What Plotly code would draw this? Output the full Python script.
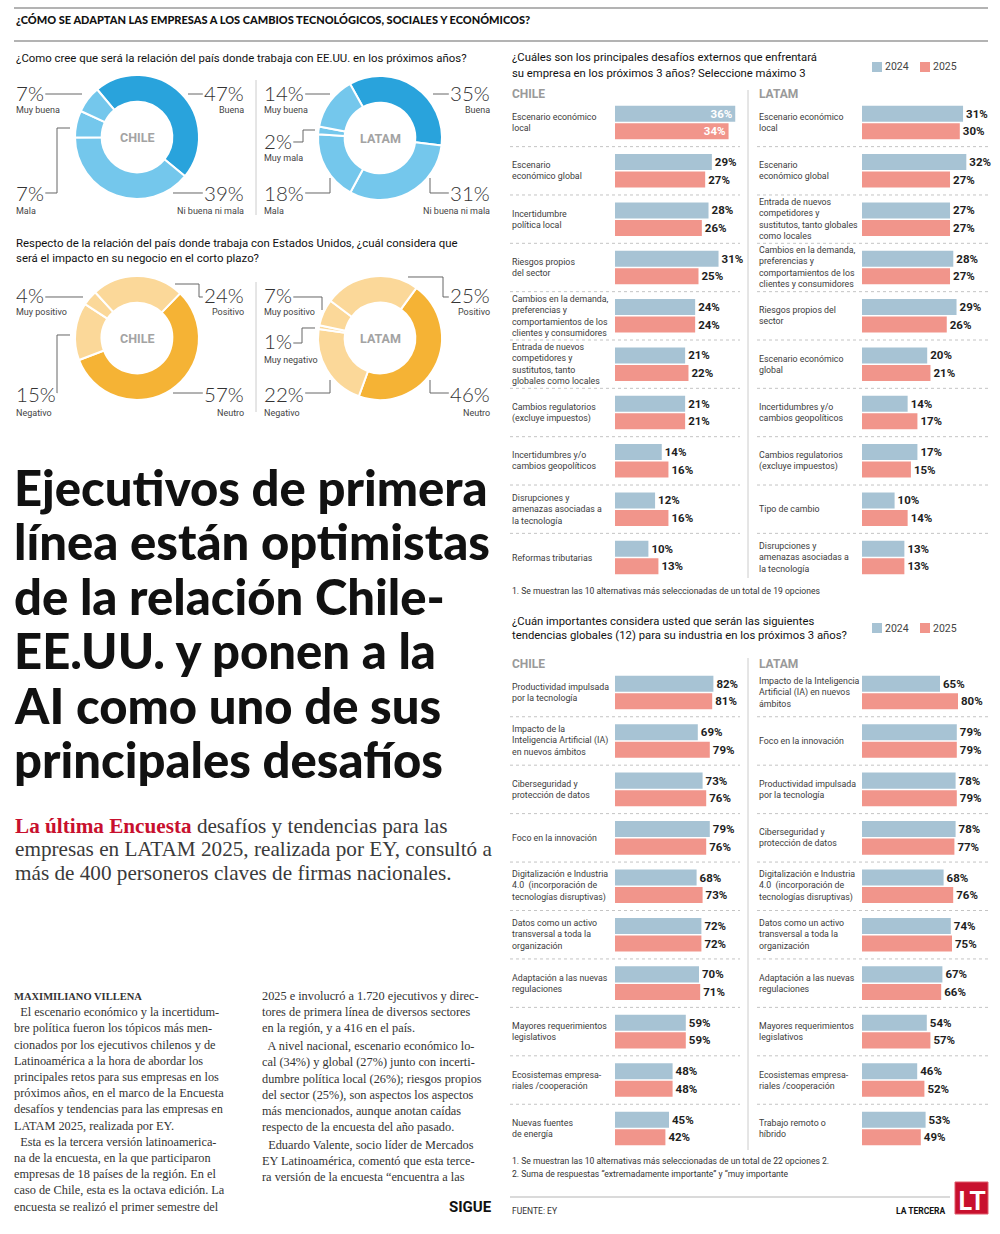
import plotly.graph_objects as go

W, H = 1000, 1234
def px(x): return x / W
def py(y): return 1 - y / H

SANS = "Roboto, 'Liberation Sans', Arial, sans-serif"
LATO = "Lato, Roboto, sans-serif"
SERIF = "'Liberation Serif', 'DejaVu Serif', serif"
TXT = "#3a3a3a"

# ---------------- DATA ----------------
rel_labels_chile = ["Buena", "Ni buena ni mala", "Mala", "Muy buena"]
rel_values_chile = [47, 39, 7, 7]
rel_labels_latam = ["Buena", "Ni buena ni mala", "Mala", "Muy mala", "Muy buena"]
rel_values_latam = [35, 31, 18, 2, 14]
imp_labels_chile = ["Neutro", "Negativo", "Muy positivo", "Positivo"]
imp_values_chile = [57, 15, 4, 24]
imp_labels_latam = ["Neutro", "Negativo", "Muy negativo", "Muy positivo", "Positivo"]
imp_values_latam = [46, 22, 1, 7, 25]

series_names = ["2024", "2025"]

c1_chile_labels = ["Escenario económico<br>local", "Escenario<br>económico global",
                   "Incertidumbre<br>política local", "Riesgos propios<br>del sector",
                   "Cambios en la demanda,<br>preferencias y<br>comportamientos de los<br>clientes y consumidores",
                   "Entrada de nuevos<br>competidores y<br>sustitutos, tanto<br>globales como locales",
                   "Cambios regulatorios<br>(excluye impuestos)",
                   "Incertidumbres y/o<br>cambios geopolíticos",
                   "Disrupciones y<br>amenazas asociadas a<br>la tecnología",
                   "Reformas tributarias"]
c1_chile_2024 = [36, 29, 28, 31, 24, 21, 21, 14, 12, 10]
c1_chile_2025 = [34, 27, 26, 25, 24, 22, 21, 16, 16, 13]

c1_latam_labels = ["Escenario económico<br>local", "Escenario<br>económico global",
                   "Entrada de nuevos<br>competidores y<br>sustitutos, tanto globales<br>como locales",
                   "Cambios en la demanda,<br>preferencias y<br>comportamientos de los<br>clientes y consumidores",
                   "Riesgos propios del<br>sector", "Escenario económico<br>global",
                   "Incertidumbres y/o<br>cambios geopolíticos",
                   "Cambios regulatorios<br>(excluye impuestos)", "Tipo de cambio",
                   "Disrupciones y<br>amenazas asociadas a<br>la tecnología"]
c1_latam_2024 = [31, 32, 27, 28, 29, 20, 14, 17, 10, 13]
c1_latam_2025 = [30, 27, 27, 27, 26, 21, 17, 15, 14, 13]

c2_chile_labels = ["Productividad impulsada<br>por la tecnología",
                   "Impacto de la<br>Inteligencia Artificial (IA)<br>en nuevos ámbitos",
                   "Ciberseguridad y<br>protección de datos", "Foco en la innovación",
                   "Digitalización e Industria<br>4.0  (incorporación de<br>tecnologías disruptivas)",
                   "Datos como un activo<br>transversal a toda la<br>organización",
                   "Adaptación a las nuevas<br>regulaciones", "Mayores requerimientos<br>legislativos",
                   "Ecosistemas empresa-<br>riales /cooperación", "Nuevas fuentes<br>de energía"]
c2_chile_2024 = [82, 69, 73, 79, 68, 72, 70, 59, 48, 45]
c2_chile_2025 = [81, 79, 76, 76, 73, 72, 71, 59, 48, 42]

c2_latam_labels = ["Impacto de la Inteligencia<br>Artificial (IA) en nuevos<br>ámbitos",
                   "Foco en la innovación", "Productividad impulsada<br>por la tecnología",
                   "Ciberseguridad y<br>protección de datos",
                   "Digitalización e Industria<br>4.0  (incorporación de<br>tecnologías disruptivas)",
                   "Datos como un activo<br>transversal a toda la<br>organización",
                   "Adaptación a las nuevas<br>regulaciones", "Mayores requerimientos<br>legislativos",
                   "Ecosistemas empresa-<br>riales /cooperación", "Trabajo remoto o<br>híbrido"]
c2_latam_2024 = [65, 79, 78, 78, 68, 74, 67, 54, 46, 53]
c2_latam_2025 = [80, 79, 79, 77, 76, 75, 66, 57, 52, 49]

# ---------------- STYLE ----------------
BLUE_DARK, BLUE_LIGHT = "#29a3dc", "#74c7ec"
ORANGE_DARK, ORANGE_LIGHT = "#f5b335", "#fbd899"
BAR_BLUE, BAR_RED = "#a7c3d4", "#f1958b"

fig = go.Figure()
ann = []
shapes = []

def text(x, y, s, size=11, color=TXT, family=SANS, xanchor="left", yanchor="middle", bold=False, weight=None):
    f = dict(size=size, color=color, family=family)
    if weight is not None:
        f["weight"] = weight
    ann.append(dict(x=px(x), y=py(y), xref="paper", yref="paper", text=(f"<b>{s}</b>" if bold else s),
                    showarrow=False, xanchor=xanchor, yanchor=yanchor,
                    align=xanchor if xanchor != "center" else "center", font=f))

def hline(x0, x1, y, color="#aaaaaa", width=1, dash="solid"):
    shapes.append(dict(type="line", xref="paper", yref="paper", x0=px(x0), x1=px(x1), y0=py(y), y1=py(y),
                       line=dict(color=color, width=width, dash=dash)))

def vline(x, y0, y1, color="#cccccc", width=1):
    shapes.append(dict(type="line", xref="paper", yref="paper", x0=px(x), x1=px(x), y0=py(y0), y1=py(y1),
                       line=dict(color=color, width=width)))

def poly(points, color="#555555", width=1):
    d = "M " + " L ".join(f"{px(a):.5f},{py(b):.5f}" for a, b in points)
    shapes.append(dict(type="path", xref="paper", yref="paper", path=d, line=dict(color=color, width=width)))

# ---------------- HEADER ----------------
hline(14, 988, 8, "#9a9a9a", 1.5)
text(14, 20, "¿CÓMO SE ADAPTAN LAS EMPRESAS A LOS CAMBIOS TECNOLÓGICOS, SOCIALES Y ECONÓMICOS?",
     size=11, color="#111", family=LATO, weight=900)
hline(14, 988, 41, "#9a9a9a", 1.5)

# ---------------- DONUTS ----------------
text(14, 58, "¿Como cree que será la relación del país donde trabaja con EE.UU. en los próximos años?",
     size=11.4, color="#111", family=SANS)
text(14, 243, "Respecto de la relación del país donde trabaja con Estados Unidos, ¿cuál considera que",
     size=11.4, color="#111", family=SANS)
text(14, 258, "será el impacto en su negocio en el corto plazo?", size=11.4, color="#111", family=SANS)
vline(256, 80, 215)
vline(256, 282, 412)

def donut(labels, values, dark_label, dark, light, cx, cy, r, rotation, name):
    colors = [dark if l == dark_label else light for l in labels]
    fig.add_trace(go.Pie(labels=labels, values=values, sort=False, direction="clockwise",
                         rotation=rotation, hole=0.57, textinfo="none", hoverinfo="skip",
                         marker=dict(colors=colors, line=dict(color="white", width=2)),
                         domain=dict(x=[px(cx - r), px(cx + r)], y=[py(cy + r), py(cy - r)]),
                         showlegend=False))
    text(cx, cy, name, size=12.5, color="#a3a3a3", family=SANS, xanchor="center", bold=True)

donut(rel_labels_chile, rel_values_chile, "Buena", BLUE_DARK, BLUE_LIGHT, 137, 137, 62, -40, "CHILE")
donut(rel_labels_latam, rel_values_latam, "Buena", BLUE_DARK, BLUE_LIGHT, 380, 138, 62, -29, "LATAM")
donut(imp_labels_chile, imp_values_chile, "Neutro", ORANGE_DARK, ORANGE_LIGHT, 137, 338, 62, 44, "CHILE")
donut(imp_labels_latam, imp_values_latam, "Neutro", ORANGE_DARK, ORANGE_LIGHT, 380, 338, 62, 36, "LATAM")

# label placement (pct anchor x, pct y, sub y, xanchor, leader polyline)
place_rel_chile = {
    "Muy buena": (14, 94, 110, "left", [(43, 94), (82, 94)]),
    "Buena": (246, 94, 110, "right", [(188, 94), (212, 94)]),
    "Mala": (14, 194, 211, "left", [(44, 193), (57, 193), (57, 128), (70, 128)]),
    "Ni buena ni mala": (246, 194, 211, "right", [(173, 193), (207, 193)]),
}
place_rel_latam = {
    "Muy buena": (262, 94, 110, "left", [(296, 94), (330, 94)]),
    "Buena": (492, 94, 110, "right", [(433, 94), (456, 94)]),
    "Muy mala": (262, 142, 158, "left", [(287, 142), (303, 142), (303, 130), (315, 130)]),
    "Mala": (262, 194, 211, "left", [(296, 193), (330, 193), (330, 178)]),
    "Ni buena ni mala": (492, 194, 211, "right", [(430, 178), (430, 193), (456, 193)]),
}
place_imp_chile = {
    "Muy positivo": (14, 296, 312, "left", [(40, 297), (83, 297)]),
    "Positivo": (246, 296, 312, "right", [(175, 284), (199, 284), (199, 297), (211, 297)]),
    "Negativo": (14, 395, 413, "left", [(45, 393), (57, 393), (57, 335), (70, 335)]),
    "Neutro": (246, 395, 413, "right", [(173, 393), (208, 393)]),
}
place_imp_latam = {
    "Muy positivo": (262, 296, 312, "left", [(287, 297), (322, 297), (322, 310)]),
    "Positivo": (492, 296, 312, "right", [(408, 277), (443, 277), (443, 297), (456, 297)]),
    "Muy negativo": (262, 342, 360, "left", [(283, 343), (302, 343), (302, 328), (315, 328)]),
    "Negativo": (262, 395, 413, "left", [(296, 393), (330, 393), (330, 380)]),
    "Neutro": (492, 395, 413, "right", [(430, 380), (430, 393), (456, 393)]),
}

PCT_SIZE = 20.5
def pct_width(v):
    return len(str(v)) * 0.58 * PCT_SIZE + 0.8 * PCT_SIZE

for labels, values, place in [(rel_labels_chile, rel_values_chile, place_rel_chile),
                              (rel_labels_latam, rel_values_latam, place_rel_latam),
                              (imp_labels_chile, imp_values_chile, place_imp_chile),
                              (imp_labels_latam, imp_values_latam, place_imp_latam)]:
    for l, v in zip(labels, values):
        x, ypct, ysub, xa, pts = place[l]
        text(x, ypct - 1, f"{v}%", size=PCT_SIZE, color="#333", family=LATO, xanchor=xa, weight=300)
        text(x, ysub, l, size=9, color="#444", family=SANS, xanchor=xa)
        pts = list(pts)
        w = pct_width(v)
        if xa == "left":
            a, b = pts[0]
            pts[0] = (max(a, x + w + 3), b)
        else:
            a, b = pts[-1]
            pts[-1] = (min(a, x - w - 3), b)
        poly(pts, "#666666", 1)

# ---------------- HEADLINE ----------------
headline = ["Ejecutivos de primera", "línea están optimistas", "de la relación Chile-",
            "EE.UU. y ponen a la", "AI como uno de sus", "principales desafíos"]
for i, line in enumerate(headline):
    text(12, 487 + 54.4 * i, line, size=49, color="#111", family=LATO, weight=900)

lead = ["<span style='color:#c8102e'><b>La última Encuesta</b></span> desafíos y tendencias para las",
        "empresas en LATAM 2025, realizada por EY, consultó a",
        "más de 400 personeros claves de firmas nacionales."]
for i, line in enumerate(lead):
    text(13, 826 + 23.3 * i, line, size=21.2, color="#3a3a3a", family=SERIF)

col1 = ["<b>MAXIMILIANO VILLENA</b>",
        "  El escenario económico y la incertidum-",
        "bre política fueron los tópicos más men-",
        "cionados por los ejecutivos chilenos y de",
        "Latinoamérica a la hora de abordar los",
        "principales retos para sus empresas en los",
        "próximos años, en el marco de la Encuesta",
        "desafíos y tendencias para las empresas en",
        "LATAM 2025, realizada por EY.",
        "  Esta es la tercera versión latinoamerica-",
        "na de la encuesta, en la que participaron",
        "empresas de 18 países de la región. En el",
        "caso de Chile, esta es la octava edición. La",
        "encuesta se realizó el primer semestre del"]
col2 = ["2025 e involucró a 1.720 ejecutivos y direc-",
        "tores de primera línea de diversos sectores",
        "en la región, y a 416 en el país.",
        "  A nivel nacional, escenario económico lo-",
        "cal (34%) y global (27%) junto con incerti-",
        "dumbre política local (26%); riesgos propios",
        "del sector (25%), son aspectos los aspectos",
        "más mencionados, aunque anotan caídas",
        "respecto de la encuesta del año pasado.",
        "  Eduardo Valente, socio líder de Mercados",
        "EY Latinoamérica, comentó que esta terce-",
        "ra versión de la encuesta “encuentra a las"]
for i, line in enumerate(col1):
    text(12, 996 + 16.2 * i, line, size=12.3 if i else 10.5, color="#333", family=SERIF)
for i, line in enumerate(col2):
    text(260, 996 + 16.2 * i + (1.5 if i >= 3 else 0) + (1.5 if i >= 9 else 0), line, size=12.3,
         color="#333", family=SERIF)
text(494, 1207, "SIGUE", size=15, color="#111", family=SANS, xanchor="right", bold=True)

# ---------------- BAR CHARTS ----------------
panels = [
    # labels, 2024, 2025, bar x0, bar x1, px per %, label x, y top, y bottom, sep x0, sep x1
    (c1_chile_labels, c1_chile_2024, c1_chile_2025, 615, 740, 3.34, 510, 98.3, 581.7, 510, 740),
    (c1_latam_labels, c1_latam_2024, c1_latam_2025, 862, 988, 3.26, 757, 98.3, 581.7, 757, 988),
    (c2_chile_labels, c2_chile_2024, c2_chile_2025, 615, 740, 1.20, 510, 668.3, 1152.7, 510, 740),
    (c2_latam_labels, c2_latam_2024, c2_latam_2025, 862, 988, 1.20, 757, 668.3, 1152.7, 757, 988),
]
layout_axes = {}
for k, (labels, v24, v25, x0, x1, scale, lx, yt, yb, sx0, sx1) in enumerate(panels, start=1):
    xmax = (x1 - x0) / scale
    xa, ya = f"x{k}", f"y{k}"
    rows = list(range(len(labels)))
    for name, vals, col in [(series_names[0], v24, BAR_BLUE), (series_names[1], v25, BAR_RED)]:
        inside = [v / xmax > 0.88 for v in vals]
        fig.add_trace(go.Bar(
            x=vals, y=rows, orientation="h", name=name, marker=dict(color=col, line=dict(width=0)),
            xaxis=xa, yaxis=ya, showlegend=False, hoverinfo="skip",
            texttemplate="%{x}%", textposition=["inside" if f else "outside" for f in inside],
            insidetextanchor="end", constraintext="none", cliponaxis=False,
            textfont=dict(family=SANS, size=11.5, weight="bold",
                          color=["white" if f else "#1e1e1e" for f in inside])))
    layout_axes[f"xaxis{k}"] = dict(domain=[px(x0), px(x1)], range=[0, xmax], visible=False, fixedrange=True)
    layout_axes[f"yaxis{k}"] = dict(domain=[py(yb), py(yt)], range=[len(labels) - 0.5, -0.5],
                                    visible=False, fixedrange=True)
    for r, lab in zip(rows, labels):
        ann.append(dict(x=px(lx), y=r, xref="paper", yref=ya, text=lab, showarrow=False,
                        xanchor="left", yanchor="middle", align="left",
                        font=dict(size=8.8, color="#3c3c3c", family=SANS)))
    for r in rows[:-1]:
        shapes.append(dict(type="line", xref="paper", yref=ya, x0=px(sx0), x1=px(sx1), y0=r + 0.5, y1=r + 0.5,
                           line=dict(color="#c4c4c4", width=1, dash="dot")))

vline(748, 90, 578)
vline(748, 658, 1150)

def legend_block(y):
    for (name, col, sx) in [(series_names[0], BAR_BLUE, 872), (series_names[1], BAR_RED, 920)]:
        shapes.append(dict(type="rect", xref="paper", yref="paper", x0=px(sx), x1=px(sx + 10),
                           y0=py(y + 5), y1=py(y - 5), fillcolor=col, line=dict(width=0)))
        text(sx + 11, y, name, size=10.5, color="#444", family=SANS)

text(510, 58, "¿Cuáles son los principales desafíos externos que enfrentará", size=11.3, color="#111", family=SANS)
text(510, 73, "su empresa en los próximos 3 años? Seleccione máximo 3", size=11.3, color="#111", family=SANS)
legend_block(67)
text(510, 94, "CHILE", size=12, color="#9a9a9a", family=SANS, bold=True)
text(757, 94, "LATAM", size=12, color="#9a9a9a", family=SANS, bold=True)
text(510, 591, "1. Se muestran las 10 alternativas más seleccionadas de un total de 19 opciones",
     size=8.6, color="#333", family=SANS)

text(510, 621, "¿Cuán importantes considera usted que serán las siguientes", size=11.3, color="#111", family=SANS)
text(510, 636, "tendencias globales (12) para su industria en los próximos 3 años?", size=11.3, color="#111", family=SANS)
legend_block(628)
text(510, 664, "CHILE", size=12, color="#9a9a9a", family=SANS, bold=True)
text(757, 664, "LATAM", size=12, color="#9a9a9a", family=SANS, bold=True)
text(510, 1161, "1. Se muestran las 10 alternativas más seleccionadas de un total de 22 opciones 2.",
     size=8.6, color="#333", family=SANS)
text(510, 1174, "2. Suma de respuestas “extremadamente importante” y “muy importante",
     size=8.6, color="#333", family=SANS)

# footer
hline(510, 950, 1197, "#b5b5b5", 1)
text(510, 1211, "FUENTE: EY", size=8.5, color="#333", family=SANS)
text(948, 1211, "LA TERCERA", size=8.5, color="#111", family=SANS, xanchor="right", bold=True)
shapes.append(dict(type="rect", xref="paper", yref="paper", x0=px(955), x1=px(988), y0=py(1214), y1=py(1182),
                   fillcolor="#c8102e", line=dict(color="#e05a6a", width=1)))
text(971.5, 1199, "LT", size=27, color="white", family=LATO, xanchor="center", weight=700)

fig.update_layout(width=W, height=H, margin=dict(l=0, r=0, t=0, b=0), paper_bgcolor="white",
                  plot_bgcolor="white", barmode="group", bargap=0.275, bargroupgap=0.086,
                  annotations=ann, shapes=shapes, showlegend=False, **layout_axes)
fig.write_html("out.html", config={"displayModeBar": False},
               post_script="document.body.style.margin='0';document.body.style.padding='0';")
